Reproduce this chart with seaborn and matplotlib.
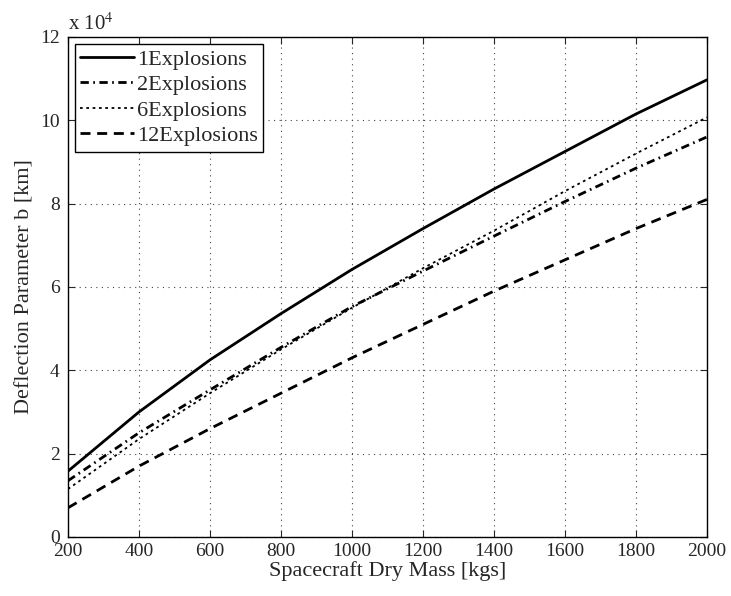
import numpy as np
import pandas as pd
import seaborn as sns
from matplotlib import pyplot as plt
from matplotlib.ticker import FuncFormatter

# dry mass [kgs]
mass = [200, 400, 600, 800, 1000, 1200, 1400, 1600, 1800, 2000]

# deflection parameter b [km]
b_1 = [15800, 30000, 42500, 53600, 64200, 74000, 83500, 92500, 101500, 109700]
b_2 = [13500, 25000, 35300, 45500, 55300, 63800, 72200, 80500, 88500, 96000]
b_6 = [11500, 23500, 34500, 45000, 55000, 64500, 73500, 83000, 92000, 100700]
b_12 = [7000, 17000, 26000, 34500, 43000, 51000, 59000, 66500, 74000, 81000]

labels = ["1Explosions", "2Explosions", "6Explosions", "12Explosions"]

df = pd.DataFrame({
    "mass": mass * 4,
    "b": b_1 + b_2 + b_6 + b_12,
    "case": np.repeat(labels, len(mass)),
})

sns.set_style("ticks")
plt.rcParams["font.family"] = ["Liberation Serif", "DejaVu Serif"]
plt.rcParams["mathtext.fontset"] = "stix"

fig = plt.figure(figsize=(7.31, 5.96), dpi=100)
ax = fig.add_axes([0.093, 0.099, 0.874, 0.839])

dashes = {
    "1Explosions": "",
    "2Explosions": (3, 1.6, 0.6, 1.6),
    "6Explosions": (1, 2),
    "12Explosions": (3.6, 2.4),
}
sns.lineplot(data=df, x="mass", y="b", hue="case", style="case",
             palette={l: "black" for l in labels}, dashes=dashes,
             linewidth=2, ax=ax)
# dotted curve is thinner in the original
ax.lines[2].set_linewidth(1.3)
ax.lines[2].set_dashes((1.5, 2))

ax.set_xlim(200, 2000)
ax.set_ylim(0, 120000)
ax.set_xticks(range(200, 2001, 200))
ax.set_yticks(range(0, 120001, 20000))
ax.yaxis.set_major_formatter(FuncFormatter(lambda v, p: "%d" % round(v / 1e4)))
ax.tick_params(direction="in", labelsize=14, length=5, top=True, right=True)
ax.tick_params(axis="x", pad=4.5)
ax.tick_params(axis="y", pad=6)
ax.grid(True, linestyle=(0, (1, 4)), color="#444444", linewidth=0.8)
for s in ax.spines.values():
    s.set_linewidth(1)
    s.set_color("black")

ax.set_xlabel("Spacecraft Dry Mass [kgs]", fontsize=16, labelpad=0.5)
ax.set_ylabel("Deflection Parameter b [km]", fontsize=16, labelpad=4)
ax.text(0.0, 1.004, "x 10$^4$", transform=ax.transAxes, fontsize=15,
        va="bottom", ha="left")

leg = ax.legend(loc="upper left", fontsize=16, frameon=True, fancybox=False,
                handlelength=2.4, handletextpad=0.15, borderpad=0.25,
                labelspacing=0.22, borderaxespad=0.3)
leg.get_frame().set_edgecolor("black")
leg.get_frame().set_linewidth(1)
leg.get_frame().set_alpha(1)
leg.get_lines()[2].set_linewidth(1.3)
leg.get_lines()[2].set_dashes((1.5, 2))

plt.savefig("out.png", dpi=100)
